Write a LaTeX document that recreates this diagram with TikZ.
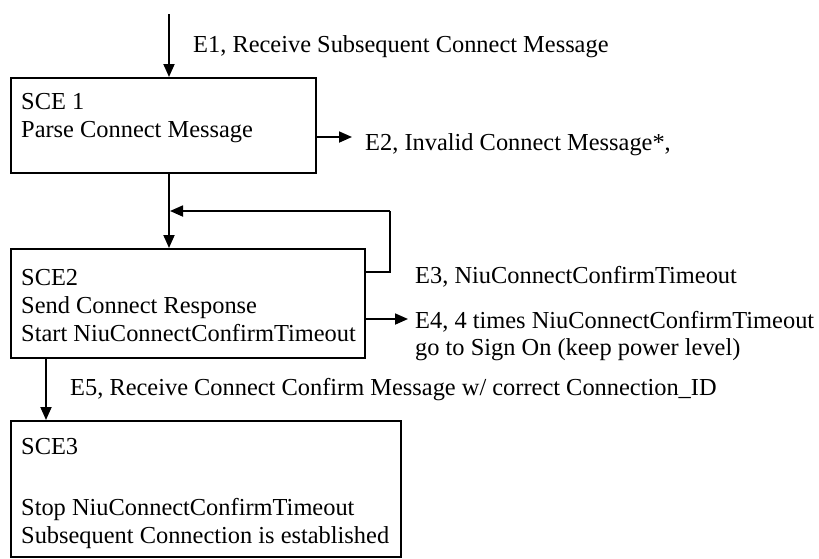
\documentclass[tikz,border=0pt]{standalone}
\usepackage{fontspec}
\setmainfont{Liberation Serif}
\usetikzlibrary{arrows.meta}
\begin{document}
\begin{tikzpicture}[x=1pt,y=-1pt,
  box/.style={draw,line width=1.8pt,inner sep=0pt,anchor=north west},
  txt/.style={anchor=base west,inner sep=0pt,font=\fontsize{24.4}{28}\selectfont},
  conn/.style={line width=1.8pt,-{Triangle[length=13pt,width=11pt]}},
  plain/.style={line width=1.8pt}]
\useasboundingbox (0,0) rectangle (819,558);
% boxes
\node[box,minimum width=305pt,minimum height=95pt] (b1) at (10,77) {};
\node[box,minimum width=354pt,minimum height=109pt] (b2) at (10,248) {};
\node[box,minimum width=390pt,minimum height=136pt] (b3) at (10,420) {};
% box texts
\node[txt] (t11) at (21,109) {SCE 1};
\node[txt] (t12) at (21,137) {Parse Connect Message};
\node[txt] (t21) at (21,285) {SCE2};
\node[txt] (t22) at (21,313) {Send Connect Response};
\node[txt] (t23) at (21,341) {Start NiuConnectConfirmTimeout};
\node[txt] (t31) at (21,454) {SCE3};
\node[txt] (t32) at (21,515) {Stop NiuConnectConfirmTimeout};
\node[txt] (t33) at (21,543) {Subsequent Connection is established};
% labels
\node[txt] (e1) at (193,52) {E1, Receive Subsequent Connect Message};
\node[txt] (e2) at (365,150) {E2, Invalid Connect Message*,};
\node[txt] (e3) at (415,283) {E3, NiuConnectConfirmTimeout};
\node[txt] (e4a) at (415,328) {E4, 4 times NiuConnectConfirmTimeout};
\node[txt] (e4b) at (415,355) {go to Sign On (keep power level)};
\node[txt] (e5) at (70,395) {E5, Receive Connect Confirm Message w/ correct Connection\_ID};
% coordinates
\coordinate (s) at (169,14);
\coordinate (p2) at (352,137);
\coordinate (l1) at (390,272);
\coordinate (l2) at (390,211);
\coordinate (p4) at (408,319);
\coordinate (q5) at (46,0);
% connectors
\draw[conn] (s) -- (s |- b1.north);
\draw[conn] (b1.east |- p2) -- (p2);
\draw[conn] (b1.south -| s) -- (b2.north -| s);
\draw[plain] (b2.east |- l1) -- (l1) -- (l2);
\draw[conn] (l2) -- ([xshift=1pt]l2 -| s);
\draw[conn] (b2.east |- p4) -- (p4);
\draw[conn] (b2.south -| q5) -- (b3.north -| q5);
\end{tikzpicture}
\end{document}
